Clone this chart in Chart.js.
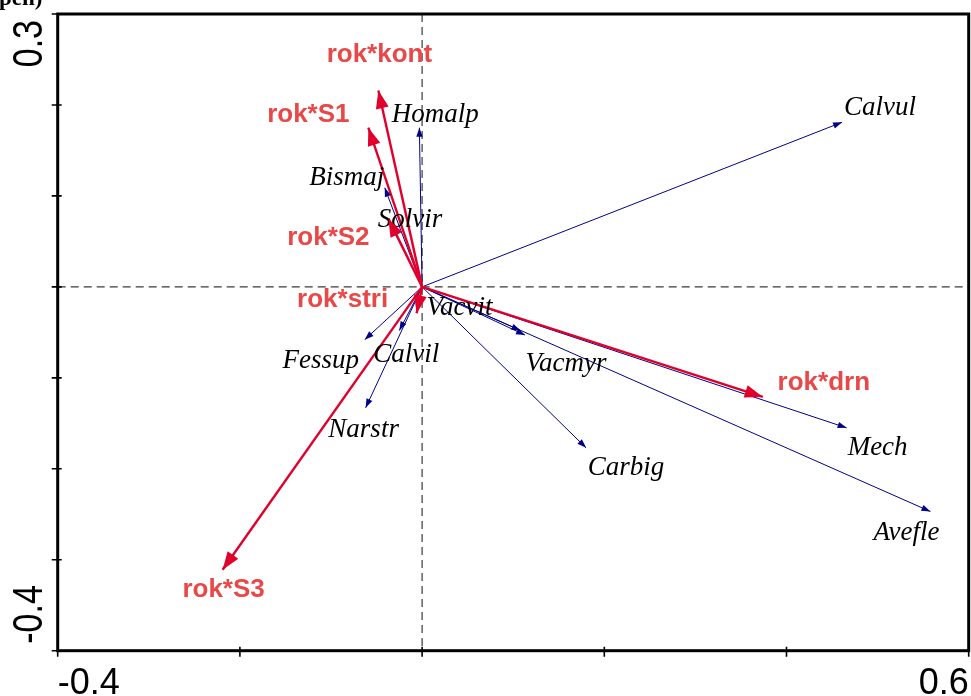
<!DOCTYPE html>
<html>
<head>
<meta charset="utf-8">
<script src="https://cdn.jsdelivr.net/npm/chart.js@4.4.1/dist/chart.umd.min.js"></script>
<style>
  html, body { margin: 0; padding: 0; background: #ffffff; overflow: hidden; }
  #wrap { width: 971px; height: 696px; }
</style>
</head>
<body>
<div id="wrap"><canvas id="biplot" width="971" height="696"></canvas></div>
<script>
// Explanatory variables (interaction terms) – arrow tips on axes 1 and 2
const envNames = ['rok*kont', 'rok*S1', 'rok*S2', 'rok*stri', 'rok*S3', 'rok*drn'];
const envX     = [-0.048, -0.059, -0.037, -0.006, -0.219, 0.374];
const envY     = [ 0.216,  0.175,  0.075, -0.029, -0.311, -0.121];

// Species – arrow tips on axes 1 and 2
const sppNames = ['Calvul', 'Homalp', 'Bismaj', 'Solvir', 'Fessup', 'Calvil',
                  'Narstr', 'Vacvit', 'Vacmyr', 'Mech', 'Avefle', 'Carbig'];
const sppX     = [0.461, -0.003, -0.041, -0.033, -0.063, -0.025,
                  -0.062, 0.108, 0.113, 0.466, 0.558, 0.180];
const sppY     = [0.181, 0.175, 0.109, 0.066, -0.058, -0.048,
                  -0.133, -0.048, -0.053, -0.155, -0.247, -0.177];

// Axis ticks and the labels printed at the axis ends
const xTicks = [-0.4, -0.2, 0, 0.2, 0.4, 0.6];
const yTicks = [-0.4, -0.3, -0.2, -0.1, 0, 0.1, 0.2, 0.3];
const xEndLabels = ['-0.4', '0.6'];
const yEndLabels = ['-0.4', '0.3'];

// Label placement relative to each arrow tip, in pixels (centre x, baseline y)
const envLabelOffset = {
  'rok*kont': [1, -28], 'rok*S1': [-60, -6], 'rok*S2': [-60, 26],
  'rok*stri': [-74, -6], 'rok*S3': [1, 27], 'rok*drn': [61, -7]
};
const sppLabelOffset = {
  Calvul: [38, -7], Homalp: [16, -6], Bismaj: [-38, -3], Solvir: [18, 0],
  Fessup: [-44, 28], Calvil: [7, 31], Narstr: [-2, 29], Vacvit: [-61, -16],
  Vacmyr: [41, 36], Mech: [31, 27], Avefle: [-24, 28], Carbig: [40, 27]
};

const ENV_LINE = '#e0002b';
const ENV_TEXT = '#e84848';
const SPP_LINE = '#000088';

const datasets = [];
envNames.forEach((n, i) => {
  datasets.push({
    label: n, data: [{x: 0, y: 0}, {x: envX[i], y: envY[i]}],
    showLine: true, borderColor: ENV_LINE, borderWidth: 2.4,
    pointRadius: 0, order: 0
  });
});
sppNames.forEach((n, i) => {
  datasets.push({
    label: n, data: [{x: 0, y: 0}, {x: sppX[i], y: sppY[i]}],
    showLine: true, borderColor: SPP_LINE, borderWidth: 1,
    pointRadius: 0, order: 1
  });
});

function arrowHead(ctx, x0, y0, x1, y1, len, half, color) {
  const dx = x1 - x0, dy = y1 - y0;
  const d = Math.hypot(dx, dy) || 1;
  const ux = dx / d, uy = dy / d;
  const bx = x1 - ux * len, by = y1 - uy * len;
  ctx.beginPath();
  ctx.moveTo(x1, y1);
  ctx.lineTo(bx - uy * half, by + ux * half);
  ctx.lineTo(bx + uy * half, by - ux * half);
  ctx.closePath();
  ctx.fillStyle = color;
  ctx.fill();
}

const biplotDecor = {
  id: 'biplotDecor',
  beforeDatasetsDraw(chart) {
    const {ctx, chartArea: a, scales: {x, y}} = chart;
    const x0 = x.getPixelForValue(0), y0 = y.getPixelForValue(0);
    ctx.save();
    ctx.strokeStyle = '#3a3a3a';
    ctx.lineWidth = 1.2;
    ctx.setLineDash([8, 5]);
    ctx.beginPath();
    ctx.moveTo(x0, a.top); ctx.lineTo(x0, a.bottom);
    ctx.moveTo(a.left, y0); ctx.lineTo(a.right, y0);
    ctx.stroke();
    ctx.restore();
  },
  afterDatasetsDraw(chart) {
    const {ctx, chartArea: a, scales: {x, y}} = chart;
    const ox = x.getPixelForValue(0), oy = y.getPixelForValue(0);
    ctx.save();

    // species arrowheads and names
    sppNames.forEach((n, i) => {
      const tx = x.getPixelForValue(sppX[i]), ty = y.getPixelForValue(sppY[i]);
      arrowHead(ctx, ox, oy, tx, ty, 9, 3.2, SPP_LINE);
    });
    ctx.font = 'italic 27px "Liberation Serif", "Times New Roman", serif';
    ctx.fillStyle = '#000000';
    ctx.textAlign = 'center';
    ctx.textBaseline = 'alphabetic';
    sppNames.forEach((n, i) => {
      const tx = x.getPixelForValue(sppX[i]), ty = y.getPixelForValue(sppY[i]);
      const o = sppLabelOffset[n];
      ctx.fillText(n, tx + o[0], ty + o[1]);
    });

    // explanatory variable arrowheads and names
    envNames.forEach((n, i) => {
      const tx = x.getPixelForValue(envX[i]), ty = y.getPixelForValue(envY[i]);
      arrowHead(ctx, ox, oy, tx, ty, 18, 6.5, ENV_LINE);
    });
    ctx.font = 'bold 26px "Liberation Sans", Arial, sans-serif';
    ctx.fillStyle = ENV_TEXT;
    envNames.forEach((n, i) => {
      const tx = x.getPixelForValue(envX[i]), ty = y.getPixelForValue(envY[i]);
      const o = envLabelOffset[n];
      ctx.fillText(n, tx + o[0], ty + o[1]);
    });

    // frame
    ctx.strokeStyle = '#000000';
    ctx.lineWidth = 3;
    ctx.strokeRect(a.left, a.top, a.right - a.left, a.bottom - a.top);

    // tick marks crossing the left and bottom axes
    ctx.lineWidth = 1.6;
    ctx.beginPath();
    yTicks.forEach(v => {
      const p = y.getPixelForValue(v);
      ctx.moveTo(a.left - 6, p); ctx.lineTo(a.left + 4, p);
    });
    xTicks.forEach(v => {
      const p = x.getPixelForValue(v);
      ctx.moveTo(p, a.bottom - 4); ctx.lineTo(p, a.bottom + 6);
    });
    ctx.stroke();

    // end labels of the x axis
    ctx.fillStyle = '#000000';
    ctx.font = '36px "Liberation Sans", Arial, sans-serif';
    ctx.textBaseline = 'alphabetic';
    ctx.textAlign = 'left';
    ctx.fillText(xEndLabels[0], x.getPixelForValue(xTicks[0]), 694);
    ctx.textAlign = 'right';
    ctx.fillText(xEndLabels[1], x.getPixelForValue(xTicks[xTicks.length - 1]), 694);

    // end labels of the y axis, rotated
    ctx.font = '34px "Liberation Sans", Arial, sans-serif';
    ctx.save();
    ctx.translate(42, y.getPixelForValue(yTicks[0]) - 7);
    ctx.rotate(-Math.PI / 2);
    ctx.scale(1, 1.25);
    ctx.textAlign = 'left';
    ctx.fillText(yEndLabels[0], 0, 0);
    ctx.restore();
    ctx.save();
    ctx.translate(42, y.getPixelForValue(yTicks[yTicks.length - 1]) + 6);
    ctx.rotate(-Math.PI / 2);
    ctx.scale(1, 1.25);
    ctx.textAlign = 'right';
    ctx.fillText(yEndLabels[1], 0, 0);
    ctx.restore();

    // tail of the axis caption, running off the top edge
    ctx.font = 'bold 23px "Liberation Serif", "Times New Roman", serif';
    ctx.textAlign = 'left';
    ctx.fillText('pen)', -1, 5);

    ctx.restore();
  }
};

new Chart(document.getElementById('biplot'), {
  type: 'scatter',
  data: { datasets },
  options: {
    responsive: false,
    animation: false,
    devicePixelRatio: 1,
    layout: { padding: { left: 57.7, top: 14, right: 2.3, bottom: 45.3 } },
    plugins: { legend: { display: false }, tooltip: { enabled: false } },
    scales: {
      x: { type: 'linear', min: -0.4, max: 0.6, display: false },
      y: { type: 'linear', min: -0.4, max: 0.3, display: false }
    }
  },
  plugins: [biplotDecor]
});
</script>
</body>
</html>
